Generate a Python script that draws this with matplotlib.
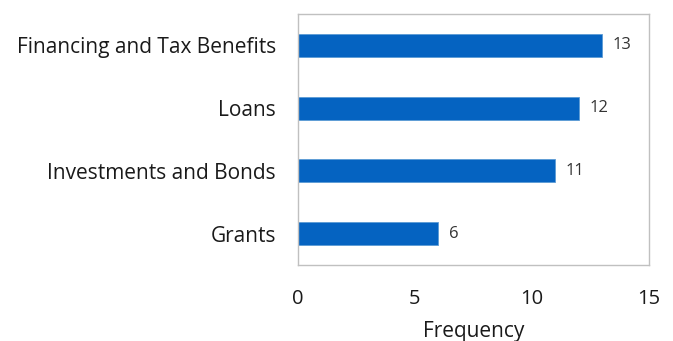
import matplotlib.pyplot as plt

categories = ['Grants', 'Investments and Bonds', 'Loans', 'Financing and Tax Benefits']
counts = [6, 11, 12, 13]

plt.rcParams['font.family'] = ['Open Sans', 'DejaVu Sans']

fig = plt.figure(figsize=(6.73, 3.41), dpi=100)
ax = fig.add_axes([0.4428, 0.2229, 0.5215, 0.736])

bars = ax.barh(categories, counts, height=0.37, color='#0563C1',
               edgecolor='#5B9BD5', linewidth=0.6)
for b, v in zip(bars, counts):
    ax.text(v + 0.45, b.get_y() + b.get_height() / 2, str(v),
            va='center', ha='left', fontsize=12, color='#333333')

ax.set_xlim(0, 15)
ax.set_ylim(-0.5, 3.5)
ax.set_xticks([0, 5, 10, 15])
ax.tick_params(axis='x', length=0, pad=17, labelsize=14.5, labelcolor='#1a1a1a')
ax.tick_params(axis='y', length=0, pad=16, labelsize=15, labelcolor='#1a1a1a')
ax.set_xlabel('Frequency', fontsize=15, color='#1a1a1a', labelpad=9)

for s in ax.spines.values():
    s.set_color('#C0C0C0')
    s.set_linewidth(1)

fig.savefig('out.png', dpi=100)
